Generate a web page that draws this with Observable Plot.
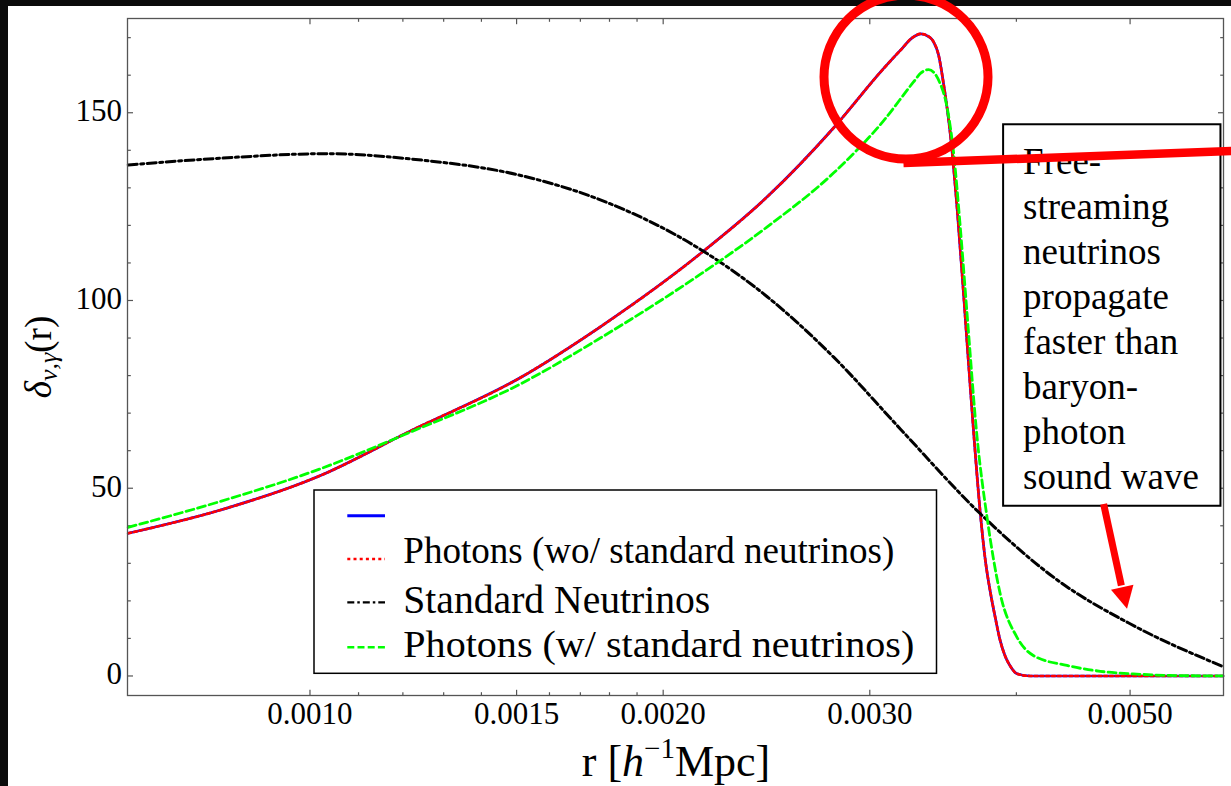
<!DOCTYPE html>
<html><head><meta charset="utf-8">
<script src="https://cdn.jsdelivr.net/npm/d3@7"></script>
<script src="https://cdn.jsdelivr.net/npm/@observablehq/plot@0.6"></script>
<style>
html,body{margin:0;padding:0;background:#0b0b0b;}
#page{position:relative;width:1231px;height:786px;overflow:hidden;background:#0b0b0b;}
#chart{position:absolute;left:8px;top:6px;width:1223px;height:780px;}
#overlay{position:absolute;left:0;top:0;pointer-events:none;}
</style></head>
<body><div id="page"><div id="chart"></div><svg id="overlay" width="1231" height="786"></svg></div>
<script>
const FONT = '"Liberation Serif","Times New Roman",Times,serif';

// Photons without standard neutrinos (blue solid, red dotted overlay)
const photonsNoNuR = [0.000700, 0.000839, 0.001021, 0.001217, 0.001512, 0.001768, 0.002152, 0.002453, 0.002795, 0.003083, 0.003185, 0.003262, 0.003317, 0.003367, 0.003400, 0.003434, 0.003467, 0.003513, 0.003560, 0.003606, 0.003654, 0.003727, 0.003763, 0.003800, 0.003838, 0.003875, 0.003914, 0.003953, 0.004005, 0.004111, 0.004700, 0.005400, 0.006000];
const photonsNoNuV = [38.0, 44.2, 53.4, 65.2, 79.5, 93.0, 112.5, 127.6, 146.0, 161.8, 166.6, 170.0, 171.0, 170.3, 168.9, 165.3, 157.8, 144.5, 124.9, 101.8, 76.9, 43.2, 31.0, 22.5, 15.5, 9.4, 5.2, 2.6, 0.6, 0.0, 0.0, 0.0, 0.0];

// Photons with standard neutrinos (green dashed)
const photonsNuR = [0.000700, 0.000839, 0.001021, 0.001217, 0.001512, 0.001768, 0.002152, 0.002453, 0.002795, 0.003083, 0.003269, 0.003317, 0.003367, 0.003445, 0.003491, 0.003537, 0.003583, 0.003631, 0.003703, 0.003776, 0.003875, 0.004005, 0.004138, 0.004417, 0.004715, 0.005032, 0.005374, 0.006000];
const photonsNuV = [39.6, 46.5, 55.2, 64.9, 77.8, 90.0, 107.0, 119.6, 134.0, 147.9, 158.2, 160.6, 161.5, 157.7, 151.5, 139.1, 119.5, 96.5, 63.6, 42.3, 21.9, 10.3, 5.4, 2.8, 1.25, 0.56, 0.15, 0.0];

// Standard neutrinos (black dot-dashed)
const neutrinoR = [0.000700, 0.000839, 0.001035, 0.001217, 0.001512, 0.001768, 0.002152, 0.002453, 0.002795, 0.003185, 0.003727, 0.004359, 0.005000, 0.006000];
const neutrinoV = [136.1, 137.9, 139.1, 137.7, 133.3, 126.8, 113.6, 101.0, 84.9, 65.8, 43.2, 25.0, 13.9, 2.5];

// Axes
const xDomain = [0.000699, 0.006006];
const yDomain = [-5.2, 175.1];
const xMajorTicks = [0.0010, 0.0015, 0.0020, 0.0030, 0.0050];
const xTickLabels = ["0.0010", "0.0015", "0.0020", "0.0030", "0.0050"];
const xMinorTicks = [0.0011, 0.0012, 0.0013, 0.0014, 0.0016, 0.0017, 0.0018, 0.0019, 0.0040];
const yMajorTicks = [0, 50, 100, 150];
const yTickLabels = ["0", "50", "100", "150"];
const yMinorTicks = [10, 20, 30, 40, 60, 70, 80, 90, 110, 120, 130, 140, 160, 170];

// Legend
const legendLabels = ["", "Photons (wo/ standard neutrinos)", "Standard Neutrinos", "Photons (w/ standard neutrinos)"];

// Annotation (in data coordinates)
const noteLines = ["Free-", "streaming", "neutrinos", "propagate", "faster than", "baryon-", "photon", "sound wave"];
const highlight = [{r: 0.003221, v: 159.5}];
const pointerLine = [{r1: 0.003205, v1: 136.6, r2: 0.00621, v2: 139.9}];
const arrowShaft = [{r1: 0.004747, v1: 45.8, r2: 0.004915, v2: 24.1}];
const arrowTip = [{r: 0.004970, v: 17.9}];
const noteBox = [{r1: 0.003901, r2: 0.005976, v1: 45.2, v2: 146.8}];
const noteAnchor = [{r: 0.004053, v: 142.2}];

const frameColor = "#555";
const tickShape = {draw(ctx, l) { ctx.moveTo(0, 0); ctx.lineTo(0, -l); }};
const headShape = {draw(ctx, l) { ctx.moveTo(0, 0); ctx.lineTo(-11.5, -l); ctx.lineTo(11.5, -l); ctx.closePath(); }};

function ticks(data, along, rotate, len) {
  const o = {rotate, length: len, anchor: "start", shape: tickShape, stroke: frameColor, strokeWidth: 1.2, strokeLinecap: "butt"};
  if (along === "bottom") return Plot.vector(data, {...o, x: d => d, y: () => yDomain[0]});
  if (along === "top") return Plot.vector(data, {...o, x: d => d, y: () => yDomain[1]});
  if (along === "left") return Plot.vector(data, {...o, y: d => d, x: () => xDomain[0]});
  return Plot.vector(data, {...o, y: d => d, x: () => xDomain[1]});
}

const chart = Plot.plot({
  width: 1223,
  height: 780,
  marginLeft: 119,
  marginRight: 8,
  marginTop: 12,
  marginBottom: 91,
  x: {type: "log", domain: xDomain, axis: null},
  y: {domain: yDomain, axis: null},
  style: {background: "white", overflow: "visible", fontFamily: FONT, color: "black"},
  marks: [
    ticks(xMajorTicks, "bottom", 0, 5.7),
    ticks(xMinorTicks, "bottom", 0, 3.3),
    ticks(xMajorTicks, "top", 180, 5.7),
    ticks(xMinorTicks, "top", 180, 3.3),
    ticks(yMajorTicks, "left", 90, 5.5),
    ticks(yMinorTicks, "left", 90, 3.3),
    ticks(yMajorTicks, "right", -90, 5.5),
    ticks(yMinorTicks, "right", -90, 3.3),
    Plot.text(xMajorTicks, {x: d => d, y: () => yDomain[0], text: (d, i) => xTickLabels[i], dy: 18.5, fontSize: 31, fill: "black", fontFamily: FONT}),
    Plot.text(yMajorTicks, {x: () => xDomain[0], y: d => d, text: (d, i) => yTickLabels[i], textAnchor: "end", dx: -5.5, dy: -1.5, fontSize: 31, fill: "black", fontFamily: FONT}),
    Plot.line(photonsNoNuR, {x: d => d, y: (d, i) => photonsNoNuV[i], stroke: "#0000ff", strokeWidth: 2.7, curve: "monotone-x"}),
    Plot.line(photonsNoNuR, {x: d => d, y: (d, i) => photonsNoNuV[i], stroke: "#ff0000", strokeWidth: 2.7, strokeDasharray: "3,2.8", curve: "monotone-x"}),
    Plot.line(neutrinoR, {x: d => d, y: (d, i) => neutrinoV[i], stroke: "#000000", strokeWidth: 3, strokeDasharray: "9,3.5,3,3.5", curve: "monotone-x"}),
    Plot.line(photonsNuR, {x: d => d, y: (d, i) => photonsNuV[i], stroke: "#00ff00", strokeWidth: 2.8, strokeDasharray: "8,4", curve: "monotone-x"}),
    Plot.frame({stroke: frameColor, strokeWidth: 1.3}),
    Plot.rect(noteBox, {x1: "r1", x2: "r2", y1: "v1", y2: "v2", fill: "white", stroke: "black", strokeWidth: 2}),
    Plot.text([noteLines.join("\n")], {x: () => noteAnchor[0].r, y: () => noteAnchor[0].v, text: d => d, textAnchor: "start", lineAnchor: "top", lineHeight: 1.216, fontSize: 37, fill: "black", fontFamily: FONT}),
    Plot.link(arrowShaft, {x1: "r1", y1: "v1", x2: "r2", y2: "v2", stroke: "#ff0000", strokeWidth: 7, strokeLinecap: "butt"}),
    Plot.vector(arrowTip, {x: "r", y: "v", rotate: -12.6, length: 22, anchor: "start", shape: headShape, fill: "#ff0000", stroke: "none"}),
    Plot.dot(highlight, {x: "r", y: "v", r: 82, stroke: "#ff0000", strokeWidth: 9, fill: "none", ariaLabel: "highlight"}),
    Plot.link(pointerLine, {x1: "r1", y1: "v1", x2: "r2", y2: "v2", stroke: "#ff0000", strokeWidth: 8.5, strokeLinecap: "butt", ariaLabel: "pointer"})
  ]
});
document.getElementById("chart").appendChild(chart);

// soft drop shadow for the highlight annotations
const svg = d3.select(chart);
const defs = svg.insert("defs", ":first-child");
const f = defs.append("filter").attr("id", "shadow").attr("x", "-20%").attr("y", "-20%").attr("width", "140%").attr("height", "140%");
f.append("feDropShadow").attr("dx", 2).attr("dy", 3).attr("stdDeviation", 3.5).attr("flood-color", "#000").attr("flood-opacity", 0.45);
svg.selectAll('g[aria-label="highlight"], g[aria-label="pointer"]').attr("filter", "url(#shadow)");

// Legend + axis labels overlay
const ov = d3.select("#overlay");
const lg = ov.append("g").style("font-family", FONT).attr("fill", "black");
lg.append("rect").attr("x", 314).attr("y", 490).attr("width", 622.5).attr("height", 183.3)
  .attr("fill", "white").attr("stroke", "black").attr("stroke-width", 1.5);
const swatches = [
  {stroke: "#0000ff", dash: null, w: 3},
  {stroke: "#ff0000", dash: "3,3.2", w: 2.5},
  {stroke: "#000000", dash: "7,3,2.5,3", w: 2.2},
  {stroke: "#00ff00", dash: "7,3.2", w: 2.4}
];
const rowY = [515.7, 559, 602.3, 647.3];
const rowBase = [0, 563.3, 613.3, 656.7];
const rowSize = [38, 37.5, 39.5, 38];
const rowLen = [0, 491, 307, 511];
legendLabels.forEach((lab, i) => {
  const s = swatches[i];
  const ln = lg.append("line").attr("x1", 347.3).attr("x2", 385).attr("y1", rowY[i]).attr("y2", rowY[i])
    .attr("stroke", s.stroke).attr("stroke-width", s.w);
  if (s.dash) ln.attr("stroke-dasharray", s.dash);
  if (lab) {
    lg.append("text").attr("x", 403.3).attr("y", rowBase[i]).style("font-family", FONT).attr("font-size", rowSize[i])
      .attr("textLength", rowLen[i]).attr("lengthAdjust", "spacingAndGlyphs").text(lab);
  }
});

const yl = ov.append("text").attr("transform", "translate(51,357) rotate(-90)").attr("text-anchor", "middle")
  .style("font-family", FONT).attr("font-size", 37).attr("fill", "black");
yl.append("tspan").attr("font-style", "italic").text("δ");
yl.append("tspan").attr("font-size", 26).attr("font-style", "italic").attr("dy", 6).text("ν,γ");
yl.append("tspan").attr("dy", -6).text("(r)");

const xl = ov.append("text").attr("x", 676).attr("y", 776).attr("text-anchor", "middle")
  .style("font-family", FONT).attr("font-size", 44).attr("fill", "black");
xl.append("tspan").text("r [");
xl.append("tspan").attr("font-style", "italic").text("h");
xl.append("tspan").attr("font-size", 29).attr("dy", -18).text("−1");
xl.append("tspan").attr("dy", 18).text("Mpc]");
</script>
</body></html>
